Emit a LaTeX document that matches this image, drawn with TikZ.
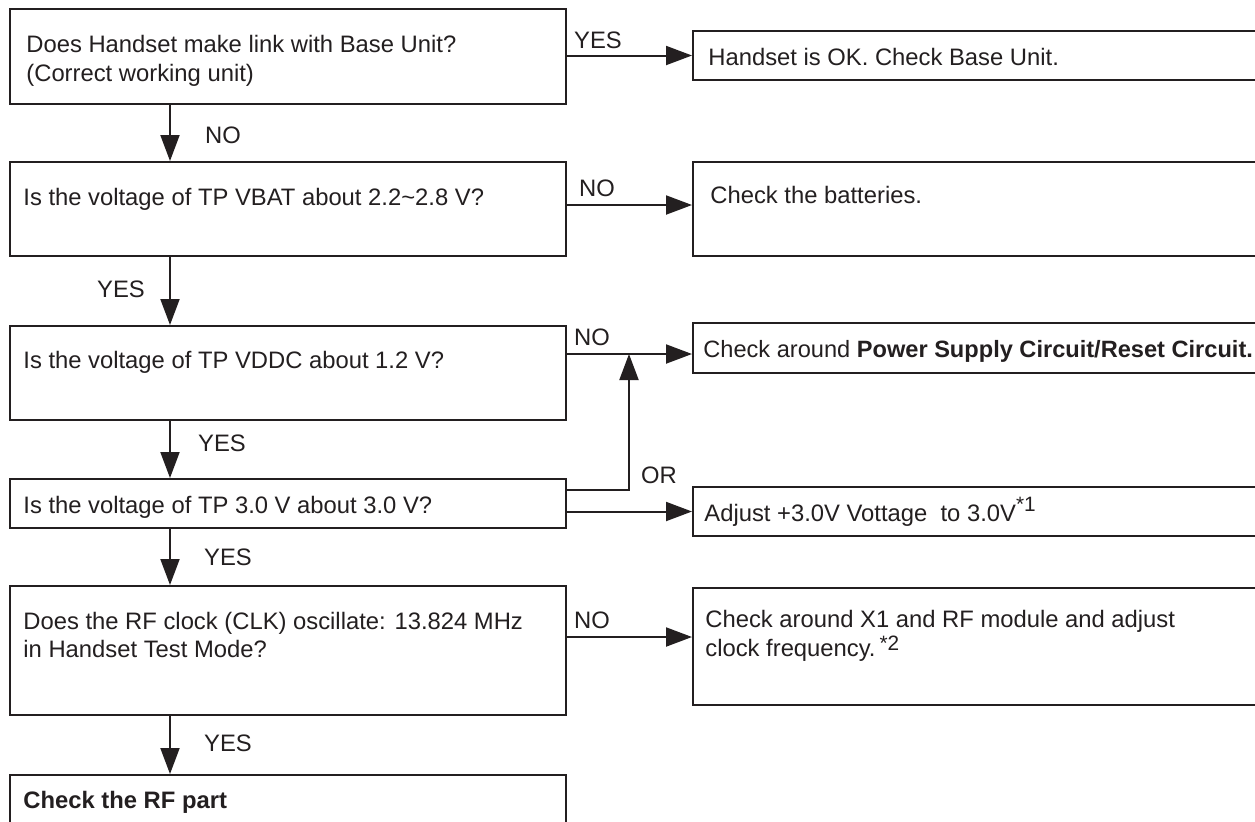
\documentclass[tikz,border=0pt]{standalone}
\usepackage{fontspec}
\setmainfont{Liberation Sans}
\usetikzlibrary{arrows.meta,calc,fit}
\definecolor{ink}{HTML}{231F20}
\newcommand{\refmark}[2]{{\fontsize{10.4pt}{10pt}\selectfont\raisebox{#1}{*#2}}}

\begin{document}
\begin{tikzpicture}[x=0.5pt,y=-0.5pt,>={Triangle[length=13pt,width=9.5pt]},
  box/.style={draw=ink,line width=1pt,inner sep=0pt},
  txt/.style={anchor=base west,inner sep=0pt,align=left,text=ink,font=\fontsize{11.9pt}{14.2pt}\selectfont},
  lbl/.style={inner sep=0pt,text=ink,font=\fontsize{11.9pt}{14.2pt}\selectfont},
  flow/.style={->,draw=ink,line width=1pt}]
  \path[fill=white,use as bounding box] (0,0) rectangle (1255,821);
  \clip (0,0) rectangle (1255,821);

  % questions on the left
  \node[box,fit={(10,9) (566,104)}] (q1) {};
  \node[box,fit={(10,162) (566,256)}] (q2) {};
  \node[box,fit={(10,326) (566,420)}] (q3) {};
  \node[box,fit={(10,479) (566,528)}] (q4) {};
  \node[box,fit={(10,586) (566,715)}] (q5) {};
  \node[box,fit={(10,775) (566,860)}] (q6) {};

  % actions on the right
  \node[box,fit={(693,31) (1280,80)}] (r1) {};
  \node[box,fit={(693,162) (1280,256)}] (r2) {};
  \node[box,fit={(693,323) (1280,373)}] (r3) {};
  \node[box,fit={(693,487) (1280,536)}] (r4) {};
  \node[box,fit={(693,588) (1280,705)}] (r5) {};

  \node[txt,anchor=west] (t1) at (26,61) {Does Handset make link with Base Unit?\\(Correct working unit)};
  \node[txt] (t2) at (23,205) {Is the voltage of TP VBAT about 2.2\textasciitilde2.8 V?};
  \node[txt] (t3) at (23,368) {Is the voltage of TP VDDC about 1.2 V?};
  \node[txt] (t4) at (23,513) {Is the voltage of TP 3.0 V about 3.0 V?};
  \node[txt,anchor=west] (t5) at (23,635) {Does the RF clock (CLK) oscillate: 13.824 MHz\\in Handset Test Mode?};
  \node[txt] (t6) at (23,808) {\bfseries Check the RF part};

  \node[txt] (s1) at (708,65) {Handset is OK. Check Base Unit.};
  \node[txt] (s2) at (710,203) {Check the batteries.};
  \node[txt,font=\fontsize{11.8pt}{14.2pt}\selectfont] (s3) at (703,357) {Check around \textbf{Power Supply Circuit/Reset Circuit.}};
  \node[txt] (s4) at (704,521) {Adjust +3.0V Vottage\ \ to 3.0V\refmark{0.45em}{1}};
  \node[txt,anchor=west] (s5) at (705,636) {Check around X1 and RF module and adjust\\clock frequency.\,\refmark{0.3em}{2}};

  \coordinate (j) at (629,354);
  \coordinate (k) at (629,490);

  \draw[flow] (q1.east |- r1.west) -- (r1.west);
  \draw[flow] ($(q2.east)+(0,-4)$) -- ($(r2.west)+(0,-4)$);
  \draw[flow] (q3.east |- j) -- (r3.west |- j);
  \draw[flow] (q4.east |- k) -- (k) -- (j);
  \draw[flow] (q4.east |- r4.west) -- (r4.west);
  \draw[flow] ($(q5.east)+(0,-13.5)$) -- ($(r5.west)+(0,-9.5)$);

  \draw[flow] ($(q1.south west)+(161,0)$) -- ($(q2.north west)+(161,0)$);
  \draw[flow] ($(q2.south west)+(161,0)$) -- ($(q3.north west)+(161,0)$);
  \draw[flow] ($(q3.south west)+(161,0)$) -- ($(q4.north west)+(161,0)$);
  \draw[flow] ($(q4.south west)+(161,0)$) -- ($(q5.north west)+(161,0)$);
  \draw[flow] ($(q5.south west)+(161,0)$) -- ($(q6.north west)+(161,0)$);

  \node[lbl] (l1) at (598,40) {YES};
  \node[lbl] (l2) at (223,135) {NO};
  \node[lbl] (l3) at (597,188) {NO};
  \node[lbl] (l4) at (121,289) {YES};
  \node[lbl] (l5) at (592,337) {NO};
  \node[lbl] (l6) at (222,443) {YES};
  \node[lbl] (l7) at (659,475) {OR};
  \node[lbl] (l8) at (228,557) {YES};
  \node[lbl] (l9) at (592,620) {NO};
  \node[lbl] (l10) at (228,743) {YES};
\end{tikzpicture}
\end{document}
